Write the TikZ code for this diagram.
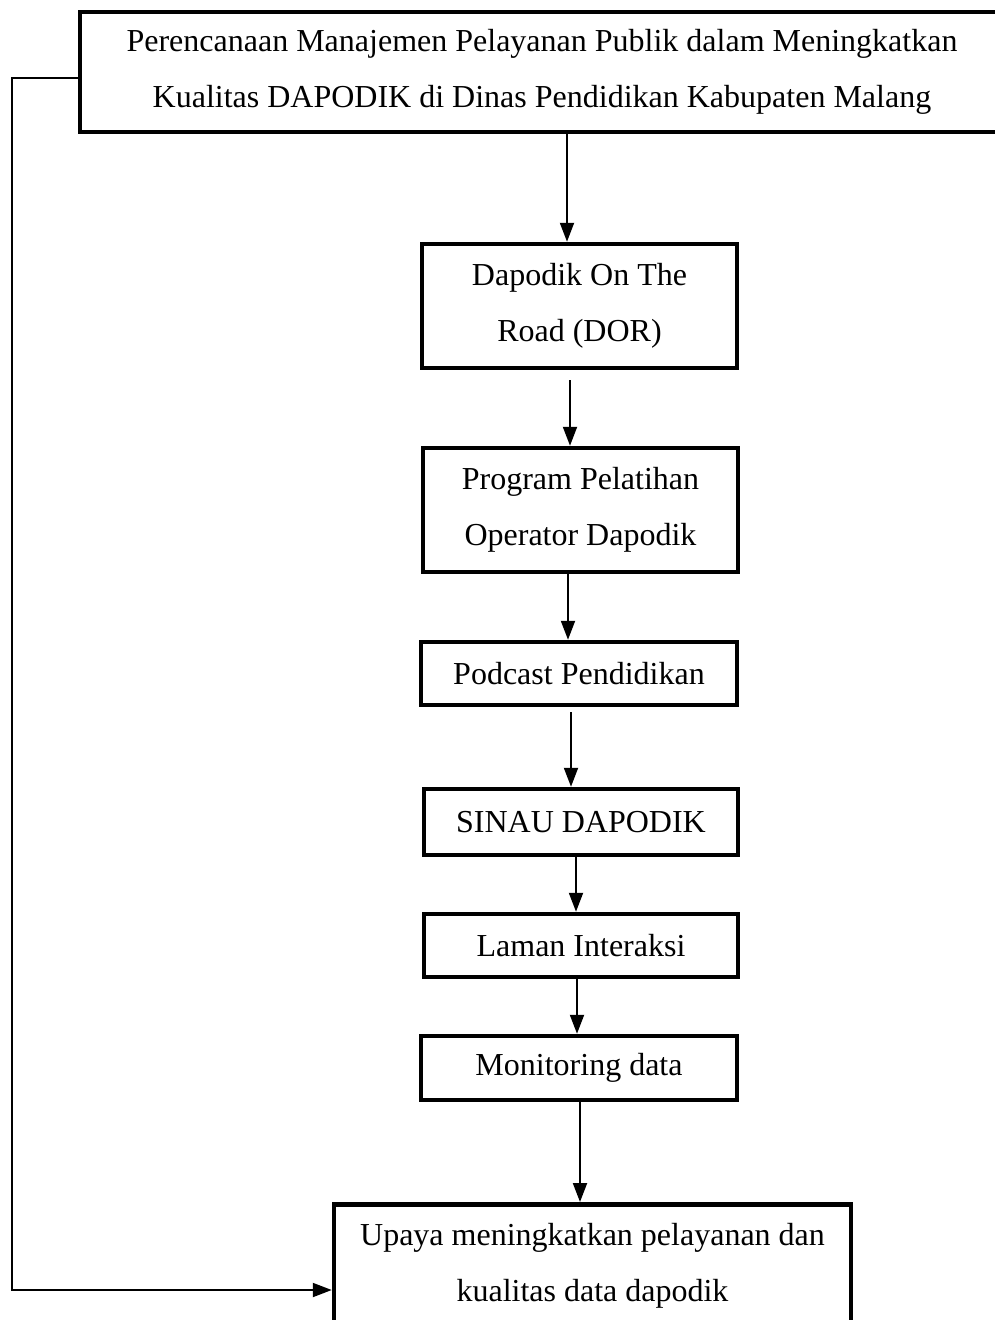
\documentclass[tikz,border=0pt]{standalone}
\usepackage{fontspec}
\setmainfont{Liberation Serif}
\usetikzlibrary{arrows.meta}
\tikzset{
 box/.style={draw,line width=4.5pt,rectangle,align=center,inner sep=0pt,
  font=\fontsize{32}{56}\selectfont},
 link/.style={line width=2pt,->}
}
\begin{document}
\begin{tikzpicture}[x=1pt,y=-1pt,>={Triangle[length=19pt,width=14pt]}]
 \useasboundingbox (0,0) rectangle (994,1320);
 \node[box,minimum width=924pt,minimum height=120pt] (top) at (542,72)
  {Perencanaan Manajemen Pelayanan Publik dalam Meningkatkan\\
   Kualitas DAPODIK di Dinas Pendidikan Kabupaten Malang};
 \node[box,minimum width=315pt,minimum height=124pt] (dor) at (579.5,306) {Dapodik On The\\Road (DOR)};
 \node[box,minimum width=315pt,minimum height=124pt] (prog) at (580.5,510) {Program Pelatihan\\Operator Dapodik};
 \node[box,minimum width=316pt,minimum height=63pt] (pod) at (579,673.5) {Podcast Pendidikan};
 \node[box,minimum width=314pt,minimum height=66pt] (sinau) at (581,822) {SINAU DAPODIK};
 \node[box,minimum width=314pt,minimum height=63pt] (laman) at (581,945.5) {Laman Interaksi};
 \node[box,minimum width=316pt,minimum height=64pt] (mon) at (579,1068) {Monitoring data};
 \node[box,minimum width=517pt,minimum height=124pt,anchor=north] (upaya) at (592.5,1202)
  {Upaya meningkatkan pelayanan dan\\kualitas data dapodik};
 \draw[link] (top.south -| 567,0) -- (dor.north -| 567,0);
 \draw[link] ([yshift=-10pt]dor.south -| 570,0) -- (prog.north -| 570,0);
 \draw[link] (prog.south -| 568,0) -- (pod.north -| 568,0);
 \draw[link] ([yshift=-5pt]pod.south -| 571,0) -- (sinau.north -| 571,0);
 \draw[link] (sinau.south -| 576,0) -- (laman.north -| 576,0);
 \draw[link] (laman.south -| 577,0) -- (mon.north -| 577,0);
 \draw[link] (mon.south -| 580,0) -- (upaya.north -| 580,0);
 \draw[link] (top.west |- 0,78) -- (12,78) |- (upaya.west |- 0,1290);
\end{tikzpicture}
\end{document}
